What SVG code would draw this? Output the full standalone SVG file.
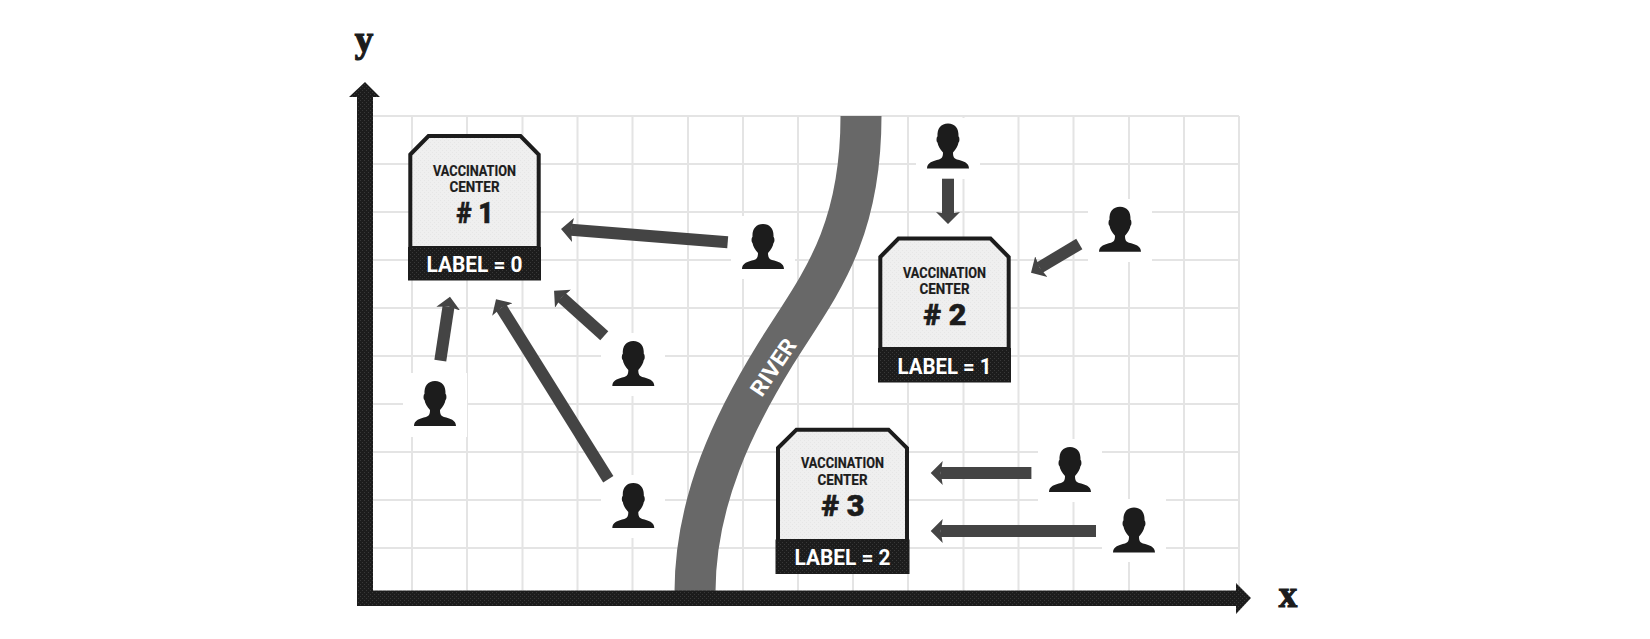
<svg xmlns="http://www.w3.org/2000/svg" width="1650" height="639" viewBox="0 0 1650 639">
<style>
.grid line{stroke:#e4e4e4;stroke-width:2}
.arrow{stroke:#444;stroke-width:12;fill:none;marker-end:url(#head)}
.halo{fill:#fff}
.figure{fill:#1c1c1c}
.body{fill:url(#lightdots);stroke:#1c1c1c;stroke-width:4}
.band{fill:url(#darkdots);stroke:#1c1c1c;stroke-width:1}
text{font-family:Roboto,"Liberation Sans",sans-serif;font-weight:700;text-anchor:middle}
.t1{font-size:14.500px;fill:#1c1c1c;stroke:#1c1c1c;stroke-width:.2px}
.t2{font-size:29px;font-weight:900;fill:#1c1c1c;stroke:#1c1c1c;stroke-width:.6px}
.t3{font-size:22px;fill:#fff}
.axis{font-family:"Liberation Serif",serif;font-size:37px;fill:#1c1c1c;stroke:#1c1c1c;stroke-width:1.200px}
</style>
<defs>
<pattern id="darkdots" width="4" height="4" patternUnits="userSpaceOnUse">
<rect width="4" height="4" fill="#1c1c1c"/><rect width="1" height="1" fill="#383838"/><rect x="2" y="2" width="1" height="1" fill="#383838"/>
</pattern>
<pattern id="lightdots" width="4" height="4" patternUnits="userSpaceOnUse">
<rect width="4" height="4" fill="#efefef"/><rect width="1" height="1" fill="#e6e6e6"/><rect x="2" y="2" width="1" height="1" fill="#e6e6e6"/>
</pattern>
<marker id="head" markerUnits="userSpaceOnUse" markerWidth="16" markerHeight="30" viewBox="0 0 16 30" refX="2" refY="15" orient="auto">
<path d="M12 15L0 3L2 15L0 27Z" fill="#444"/>
</marker>
<path id="p" d="M-21 45C-21 39-15 37.500-9 36C-6 35-5 33-5 29C-8 26-10 22-10.500 19C-12 18-11.500 13-10.500 13C-11 5-7 0 0 0C7 0 11 5 10.500 13C11.500 13 12 18 10.500 19C10 22 8 26 5 29C5 33 6 35 9 36C15 37.500 21 39 21 45Z"/>
</defs>
<rect width="1650" height="639" fill="#fff"/>
<g class="grid">
<line x1="372" y1="116" x2="1239" y2="116"/><line x1="372" y1="164" x2="1239" y2="164"/><line x1="372" y1="212" x2="1239" y2="212"/><line x1="372" y1="260" x2="1239" y2="260"/><line x1="372" y1="308" x2="1239" y2="308"/><line x1="372" y1="356" x2="1239" y2="356"/><line x1="372" y1="404" x2="1239" y2="404"/><line x1="372" y1="452" x2="1239" y2="452"/><line x1="372" y1="500" x2="1239" y2="500"/><line x1="372" y1="548" x2="1239" y2="548"/>
<line x1="412" y1="116" x2="412" y2="592"/><line x1="467" y1="116" x2="467" y2="592"/><line x1="522.500" y1="116" x2="522.500" y2="592"/><line x1="577.500" y1="116" x2="577.500" y2="592"/><line x1="632.500" y1="116" x2="632.500" y2="592"/><line x1="688" y1="116" x2="688" y2="592"/><line x1="743" y1="116" x2="743" y2="592"/><line x1="798" y1="116" x2="798" y2="592"/><line x1="853" y1="116" x2="853" y2="592"/><line x1="908" y1="116" x2="908" y2="592"/><line x1="963.500" y1="116" x2="963.500" y2="592"/><line x1="1018.500" y1="116" x2="1018.500" y2="592"/><line x1="1073.500" y1="116" x2="1073.500" y2="592"/><line x1="1129" y1="116" x2="1129" y2="592"/><line x1="1184" y1="116" x2="1184" y2="592"/><line x1="1239" y1="116" x2="1239" y2="592"/>
</g>
<rect class="halo" x="403" y="373" width="64" height="64"/>
<rect class="halo" x="601" y="333" width="64" height="63"/>
<rect class="halo" x="601" y="475" width="64" height="63"/>
<rect class="halo" x="731" y="216" width="64" height="63"/>
<rect class="halo" x="916" y="118" width="64" height="61"/>
<rect class="halo" x="1088" y="199" width="64" height="63"/>
<rect class="halo" x="1038" y="439" width="64" height="63"/>
<rect class="halo" x="1102" y="499" width="64" height="63"/>
<g id="river">
<path d="M695 592C695 500 735 420 775 355C815 290 861 240 861 116" fill="none" stroke="#686868" stroke-width="41"/>
<text class="t3" transform="translate(773 367) rotate(-56)" y="8" textLength="64" lengthAdjust="spacingAndGlyphs">RIVER</text>
</g>
<g id="axes">
<path fill="url(#darkdots)" d="M357 606V97H349L365 82L380 97H373V590.500H1236V583L1251 598L1236 614V606Z"/>
<text class="axis" x="364" y="52">y</text>
<text class="axis" x="1288" y="607">x</text>
</g>
<g id="connectors">
<line class="arrow" x1="727.700" y1="242.300" x2="571" y2="229.800"/>
<line class="arrow" x1="440.300" y1="360.700" x2="448.500" y2="306.600"/>
<line class="arrow" x1="608.300" y1="479.300" x2="501.300" y2="307.800"/>
<line class="arrow" x1="604.300" y1="335.700" x2="561.500" y2="297.400"/>
<line class="arrow" x1="948" y1="178.700" x2="948" y2="214"/>
<line class="arrow" x1="1079.300" y1="244" x2="1039.600" y2="267.600"/>
<line class="arrow" x1="1031.400" y1="473" x2="940.700" y2="473"/>
<line class="arrow" x1="1096" y1="531" x2="940.700" y2="531"/>
</g>
<g id="center1">
<path class="body" d="M410.300 154.500L428.500 136H520.500L538.700 154.500V248H410.300Z"/>
<rect class="band" x="408.500" y="247.500" width="132" height="32.500"/>
<text class="t1" x="474.500" y="175.700" textLength="83" lengthAdjust="spacingAndGlyphs">VACCINATION</text>
<text class="t1" x="474.500" y="191.700" textLength="50" lengthAdjust="spacingAndGlyphs">CENTER</text>
<text class="t2" x="475" y="223.300" textLength="37" lengthAdjust="spacingAndGlyphs">#&#160;1</text>
<text class="t3" x="474.500" y="272" textLength="96" lengthAdjust="spacingAndGlyphs">LABEL = 0</text>
</g>
<g id="center2">
<path class="body" d="M880.300 257L898.500 238.500H990.500L1008.700 257V349H880.300Z"/>
<rect class="band" x="878.500" y="348.500" width="132" height="33.500"/>
<text class="t1" x="944.500" y="277.700" textLength="83" lengthAdjust="spacingAndGlyphs">VACCINATION</text>
<text class="t1" x="944.500" y="293.500" textLength="50" lengthAdjust="spacingAndGlyphs">CENTER</text>
<text class="t2" x="945" y="325" textLength="43" lengthAdjust="spacingAndGlyphs">#&#160;2</text>
<text class="t3" x="944.500" y="373.500" textLength="94" lengthAdjust="spacingAndGlyphs">LABEL = 1</text>
</g>
<g id="center3">
<path class="body" d="M778 448L796.500 429.700H888.500L907 448V541H778Z"/>
<rect class="band" x="776" y="540" width="133" height="33.500"/>
<text class="t1" x="842.500" y="468" textLength="83" lengthAdjust="spacingAndGlyphs">VACCINATION</text>
<text class="t1" x="842.500" y="484.500" textLength="50" lengthAdjust="spacingAndGlyphs">CENTER</text>
<text class="t2" x="843" y="516" textLength="43" lengthAdjust="spacingAndGlyphs">#&#160;3</text>
<text class="t3" x="842.500" y="564.500" textLength="96" lengthAdjust="spacingAndGlyphs">LABEL = 2</text>
</g>
<g id="person1" class="figure"><use href="#p" x="435" y="381"/></g>
<g id="person2" class="figure"><use href="#p" x="633.300" y="341"/></g>
<g id="person3" class="figure"><use href="#p" x="633.300" y="483"/></g>
<g id="person4" class="figure"><use href="#p" x="763" y="224"/></g>
<g id="person5" class="figure"><use href="#p" x="948" y="123.500"/></g>
<g id="person6" class="figure"><use href="#p" x="1120" y="206.700"/></g>
<g id="person7" class="figure"><use href="#p" x="1070" y="447"/></g>
<g id="person8" class="figure"><use href="#p" x="1134" y="507.500"/></g>
</svg>
